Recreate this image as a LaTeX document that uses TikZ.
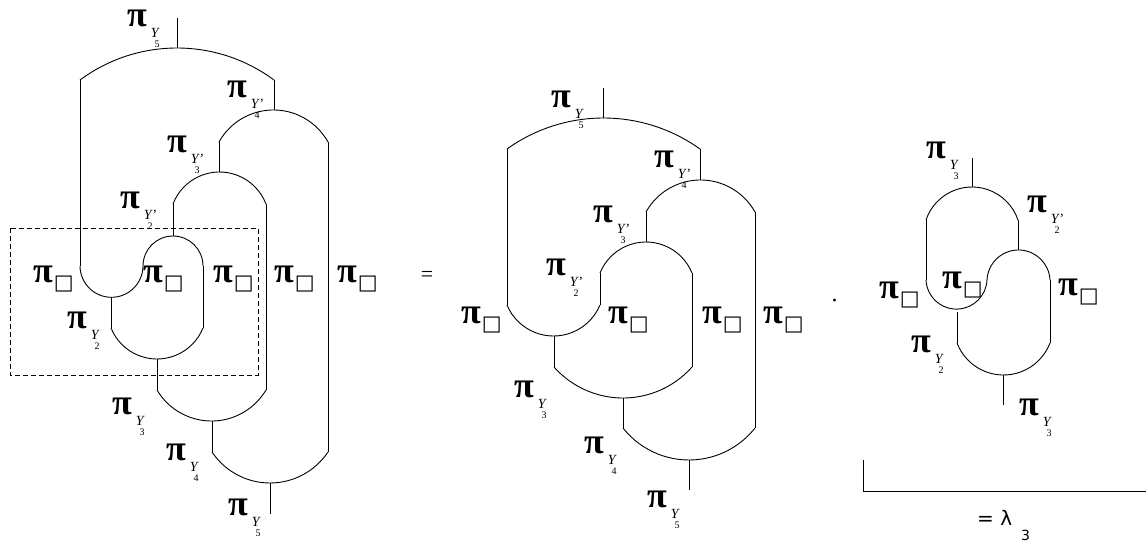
\documentclass[tikz,border=0pt]{standalone}
\usepackage{fontspec}
\setmainfont{Liberation Serif}
\newfontfamily\dejavu{DejaVu Sans}
\usetikzlibrary{positioning}

% label pieces: big pi, subscript Y with digit, white square
\newcommand{\pibig}{\fontsize{36}{36}\selectfont\bfseries π}
\newcommand{\pY}[2]{{\pibig}\hspace{4pt}\raisebox{-11pt}{\fontsize{14}{14}\selectfont\itshape Y\rlap{#2}}\hspace{-4pt}\raisebox{-21pt}{\fontsize{10}{10}\selectfont #1}}
\newcommand{\pSq}{{\pibig}\hspace{1pt}\raisebox{-7pt}{\fontsize{21}{21}\selectfont\dejavu □}}

\begin{document}
\begin{tikzpicture}[
  x=1pt, y=-1pt,
  wire/.style={line width=0.9pt},
  dashbox/.style={line width=0.7pt, dash pattern=on 5pt off 3pt},
  lab/.style={anchor=base west, inner sep=0pt},
]
\useasboundingbox (0,0) rectangle (1146,543);

% caps (arches): left x / right x / foot y / rise
\foreach \xa/\xb/\yy/\ss in {80/274/80/32, 219/328/142/32, 173/266/204/32, 143/203/266/30,
                            507/700/149/31, 646/755/212/32, 600/692/273/31,
                            926/1018/220/33, 987/1050/280/30}{
  \pgfmathsetmacro{\hw}{(\xb-\xa)/2}
  \pgfmathsetmacro{\R}{(\hw*\hw+\ss*\ss)/(2*\ss)}
  \pgfmathsetmacro{\th}{asin(\hw/\R)}
  \draw[wire] (\xa,\yy) arc[start angle=270-\th, end angle=270+\th, radius=\R];
}

% cups: left x / right x / foot y / depth
\foreach \xa/\xb/\yy/\ss in {80/143/266/31, 111/203/328/31, 157/266/390/31, 212/328/452/31,
                            507/600/305/31, 554/692/367/31, 623/755/428/32,
                            926/987/280/32, 957/1050/343/32}{
  \pgfmathsetmacro{\hw}{(\xb-\xa)/2}
  \pgfmathsetmacro{\R}{(\hw*\hw+\ss*\ss)/(2*\ss)}
  \pgfmathsetmacro{\th}{asin(\hw/\R)}
  \draw[wire] (\xa,\yy) arc[start angle=90+\th, end angle=90-\th, radius=\R];
}

% vertical strands: x / top / bottom
\foreach \xx/\ya/\yb in {177/18/48, 80/80/266, 274/80/110, 219/142/172, 328/142/452,
                         173/204/236, 266/204/390, 203/266/328, 111/297/328, 157/359/390,
                         212/421/452, 270/483/514,
                         603/88/118, 700/149/180, 646/212/242, 755/212/428, 507/149/305,
                         600/273/305, 554/336/367, 692/273/367, 623/398/428, 689/460/490,
                         972/158/187, 926/220/280, 1018/220/250, 1050/280/343, 957/312/343,
                         1003/375/405}{
  \draw[wire] (\xx,\ya) -- (\xx,\yb);
}

\draw[dashbox] (10,228) rectangle (258,375);
\draw[wire] (863,460) -- (863,491) -- (1146,491);

% left diagram labels
\node[lab] (lY5t) at (127,27) {\pY{5}{}};
\node[lab] (lY4p) at (227,97) {\pY{4}{’}};
\node[lab] (lY3p) at (167,152) {\pY{3}{’}};
\node[lab] (lY2p) at (120,208) {\pY{2}{’}};
\foreach \xx [count=\i] in {33,143,213,274,337}
  \node[lab] (lsq\i) at (\xx,282) {\pSq};
\node[lab] (lY2) at (67,328) {\pY{2}{}};
\node[lab] (lY3) at (112,414) {\pY{3}{}};
\node[lab] (lY4) at (166,460) {\pY{4}{}};
\node[lab] (lY5b) at (228,515) {\pY{5}{}};

\node (eq) at (427,276) {\fontsize{22}{22}\selectfont =};

% middle diagram labels
\node[lab] (mY5t) at (551,107) {\pY{5}{}};
\node[lab] (mY4p) at (654,167) {\pY{4}{’}};
\node[lab] (mY3p) at (593,222) {\pY{3}{’}};
\node[lab] (mY2p) at (546,275) {\pY{2}{’}};
\foreach \xx [count=\i] in {461,608,702,763}
  \node[lab] (msq\i) at (\xx,323) {\pSq};
\node[lab] (mY3) at (514,397) {\pY{3}{}};
\node[lab] (mY4) at (584,453) {\pY{4}{}};
\node[lab] (mY5b) at (647,507) {\pY{5}{}};

\node (dot) at (834.5,303.5) {\fontsize{24}{24}\selectfont ·};

% right diagram labels
\node[lab] (rY3t) at (926,158) {\pY{3}{}};
\node[lab] (rY2p) at (1027,212) {\pY{2}{’}};
\node[lab] (rsq1) at (879,298) {\pSq};
\node[lab] (rsq2) at (942,288) {\pSq};
\node[lab] (rsq3) at (1058,295) {\pSq};
\node[lab] (rY2) at (911,352) {\pY{2}{}};
\node[lab] (rY3b) at (1019,415) {\pY{3}{}};

\node[lab] (lam) at (977,525) {\dejavu\fontsize{20}{20}\selectfont = λ\hspace{9pt}\raisebox{-15pt}{\fontsize{14}{14}\selectfont 3}};
\end{tikzpicture}
\end{document}
